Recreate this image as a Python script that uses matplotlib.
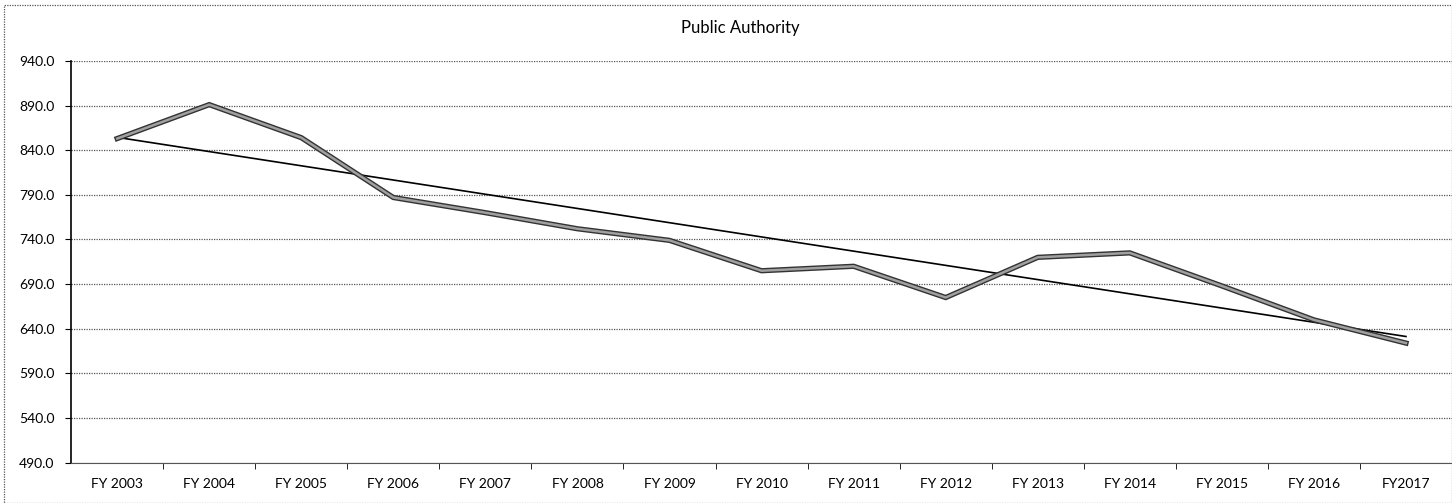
import numpy as np
import matplotlib.pyplot as plt
from matplotlib.patches import Rectangle

years = ["FY 2003", "FY 2004", "FY 2005", "FY 2006", "FY 2007", "FY 2008",
         "FY 2009", "FY 2010", "FY 2011", "FY 2012", "FY 2013", "FY 2014",
         "FY 2015", "FY 2016", "FY2017"]
values = [853, 891, 854, 787, 770, 752, 739, 705, 710, 675, 720, 725, 688, 650, 624]
yticks = [490, 540, 590, 640, 690, 740, 790, 840, 890, 940]

plt.rcParams['font.family'] = ['Lato', 'DejaVu Sans']

fig = plt.figure(figsize=(14.52, 5.03), dpi=100)
ax = fig.add_axes([0.049, 0.08, 0.951, 0.799])

x = np.arange(len(years))

# trend line (least squares, like Excel's linear trendline)
k, b = np.polyfit(x, values, 1)
ax.plot(x, k * x + b, color="black", lw=1.2, zorder=3)

# main series: dark edges with a grey core
ax.plot(x, values, color="#333333", lw=3.8, solid_joinstyle="miter", zorder=4)
ax.plot(x, values, color="#a0a0a0", lw=1.8, solid_joinstyle="miter", zorder=5)

ax.set_xlim(-0.5, len(years) - 0.5)
ax.set_ylim(490, 940)
ax.set_yticks(yticks)
ax.set_yticklabels(["%.1f" % v for v in yticks], fontsize=10)
ax.set_xticks(x)
ax.set_xticklabels(years, fontsize=10)
ax.set_xticks(x[:-1] + 0.5, minor=True)
ax.tick_params(axis="x", which="major", length=0, pad=11)
ax.tick_params(axis="x", which="minor", length=4, direction="out")
ax.tick_params(axis="y", length=4, direction="out", pad=8)

ax.grid(axis="y", linestyle=(0, (1, 1)), color="#555555", lw=0.9)
for s in ["top", "right"]:
    ax.spines[s].set_visible(False)
ax.spines["left"].set_linewidth(1.2)
ax.spines["bottom"].set_linestyle((0, (1, 1)))
ax.spines["bottom"].set_color("#555555")

fig.text(0.51, 0.944, "Public Authority", ha="center", va="center", fontsize=12)

# dotted chart border
fig.patches.append(Rectangle((0.003, 0.0), 0.997, 0.99, transform=fig.transFigure,
                             fill=False, lw=0.9, ls=(0, (1, 1)), ec="#555555"))

fig.savefig("out.png", dpi=100)
